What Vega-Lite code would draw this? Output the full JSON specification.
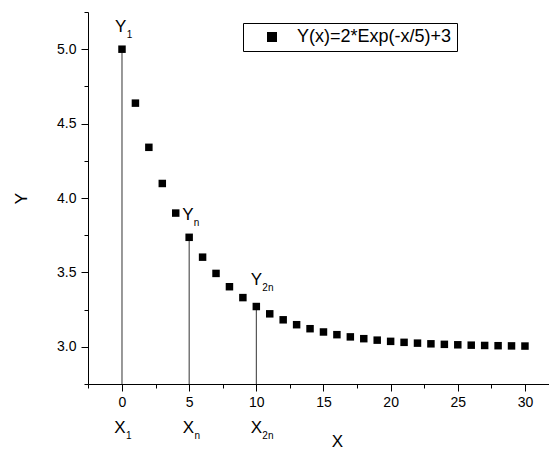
{
  "$schema": "https://vega.github.io/schema/vega-lite/v6.json",
  "width": 461,
  "height": 372,
  "autosize": "none",
  "padding": {"left": 88, "top": 12, "right": 0, "bottom": 66},
  "background": "white",
  "config": {
    "view": {"stroke": null},
    "font": "Liberation Sans",
    "axis": {
      "domainColor": "black",
      "domainWidth": 1,
      "tickColor": "black",
      "tickWidth": 1,
      "labelColor": "black",
      "labelFont": "Liberation Sans",
      "labelFontSize": 14,
      "labelOverlap": false,
      "labelBound": false,
      "labelFlush": false,
      "grid": false,
      "titleColor": "black",
      "titleFont": "Liberation Sans",
      "titleFontSize": 17,
      "titleFontWeight": "normal"
    },
    "axisY": {"titleAngle": -90}
  },
  "datasets": {
    "pts": [
      {"x": 0, "y": 5.0}, {"x": 1, "y": 4.6375}, {"x": 2, "y": 4.3406}, {"x": 3, "y": 4.0976},
      {"x": 4, "y": 3.8987}, {"x": 5, "y": 3.7358}, {"x": 6, "y": 3.6024}, {"x": 7, "y": 3.4932},
      {"x": 8, "y": 3.4038}, {"x": 9, "y": 3.3306}, {"x": 10, "y": 3.2707}, {"x": 11, "y": 3.2216},
      {"x": 12, "y": 3.1814}, {"x": 13, "y": 3.1485}, {"x": 14, "y": 3.1216}, {"x": 15, "y": 3.0996},
      {"x": 16, "y": 3.0815}, {"x": 17, "y": 3.0667}, {"x": 18, "y": 3.0546}, {"x": 19, "y": 3.0447},
      {"x": 20, "y": 3.0366}, {"x": 21, "y": 3.03}, {"x": 22, "y": 3.0246}, {"x": 23, "y": 3.0201},
      {"x": 24, "y": 3.0165}, {"x": 25, "y": 3.0135}, {"x": 26, "y": 3.011}, {"x": 27, "y": 3.009},
      {"x": 28, "y": 3.0074}, {"x": 29, "y": 3.0061}, {"x": 30, "y": 3.005}
    ],
    "ann": [
      {"x": -0.1, "y": 5.114, "t": "Y", "s": "1"},
      {"x": 4.9, "y": 3.851, "t": "Y", "s": "n"},
      {"x": 10.0, "y": 3.414, "t": "Y", "s": "2n"},
      {"x": -0.15, "y": 2.418, "t": "X", "s": "1"},
      {"x": 4.95, "y": 2.418, "t": "X", "s": "n"},
      {"x": 10.0, "y": 2.418, "t": "X", "s": "2n"}
    ]
  },
  "resolve": {"axis": {"x": "independent", "y": "independent"}},
  "layer": [
    {
      "data": {"name": "pts"},
      "transform": [{"filter": {"field": "x", "oneOf": [0, 5, 10]}}],
      "mark": {"type": "rule", "color": "#333333", "strokeWidth": 1},
      "encoding": {
        "x": {
          "field": "x", "type": "quantitative",
          "scale": {"domain": [-2.531, 31.79], "nice": false, "zero": false},
          "axis": {
            "orient": "bottom",
            "title": null,
            "values": [-2.5, 2.5, 7.5, 12.5, 17.5, 22.5, 27.5],
            "labels": false,
            "domain": false,
            "tickSize": 4
          }
        },
        "y": {
          "field": "y", "type": "quantitative",
          "scale": {"domain": [2.75, 5.25], "nice": false, "zero": false},
          "axis": {
            "orient": "left",
            "title": null,
            "values": [2.75, 3.25, 3.75, 4.25, 4.75, 5.25],
            "labels": false,
            "domain": false,
            "tickSize": 4
          }
        },
        "y2": {"datum": 2.75}
      }
    },
    {
      "data": {"name": "pts"},
      "mark": {"type": "point", "shape": "square", "filled": true, "size": 56, "opacity": 1},
      "encoding": {
        "x": {
          "field": "x", "type": "quantitative",
          "axis": {
            "orient": "bottom",
            "title": "X",
            "values": [0, 5, 10, 15, 20, 25, 30],
            "format": "d",
            "tickSize": 7,
            "labelPadding": 4,
            "titleX": 249,
            "titleY": 62,
            "titleBaseline": "alphabetic",
            "titleAlign": "center"
          }
        },
        "y": {
          "field": "y", "type": "quantitative",
          "axis": {
            "orient": "left",
            "title": "Y",
            "values": [3, 3.5, 4, 4.5, 5],
            "format": ".1f",
            "tickSize": 7,
            "labelPadding": 5,
            "titleAngle": -90,
            "titleX": -62,
            "titleY": 186,
            "titleBaseline": "alphabetic",
            "titleAlign": "center"
          }
        },
        "color": {
          "datum": "Y(x)=2*Exp(-x/5)+3",
          "type": "nominal",
          "scale": {"range": ["black"]},
          "legend": {
            "orient": "none",
            "legendX": 155,
            "legendY": 11,
            "title": null,
            "strokeColor": "black",
            "fillColor": "white",
            "padding": 5,
            "symbolType": "square",
            "symbolSize": 100,
            "symbolFillColor": "black",
            "symbolStrokeWidth": 0,
            "symbolOffset": 15,
            "labelOffset": 16,
            "labelFontSize": 18,
            "labelFont": "Liberation Sans",
            "labelColor": "black",
            "labelLimit": 300,
            "labelExpr": "datum.label + '\u00a0\u00a0\u00a0\u00a0'"
          }
        }
      }
    },
    {
      "data": {"name": "ann"},
      "mark": {"type": "text", "align": "center", "baseline": "alphabetic", "fontSize": 17, "color": "black", "clip": false},
      "encoding": {
        "x": {"field": "x", "type": "quantitative", "axis": null},
        "y": {"field": "y", "type": "quantitative", "axis": null},
        "text": {"field": "t"}
      }
    },
    {
      "data": {"name": "ann"},
      "mark": {"type": "text", "align": "left", "baseline": "alphabetic", "fontSize": 10, "dx": 6, "dy": 6, "color": "black", "clip": false},
      "encoding": {
        "x": {"field": "x", "type": "quantitative", "axis": null},
        "y": {"field": "y", "type": "quantitative", "axis": null},
        "text": {"field": "s"}
      }
    }
  ]
}
